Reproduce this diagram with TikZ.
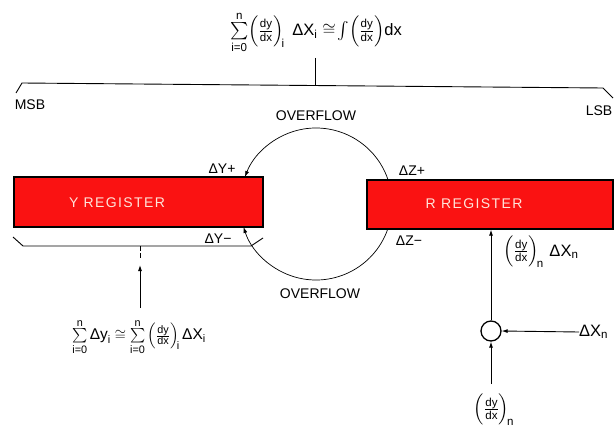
\documentclass[tikz,border=0pt]{standalone}
\usepackage{amsmath}
\usepackage{fontspec}
\setmainfont{Liberation Sans}
\usetikzlibrary{arrows.meta}
\definecolor{regred}{RGB}{250,18,18}
\definecolor{regtext}{RGB}{255,228,218}
\newcommand\sv[1]{\text{#1}}
\begin{document}
\begin{tikzpicture}[x=1pt,y=1pt,
  lbl/.style={font=\fontsize{14}{16}\selectfont, inner sep=0pt},
  form/.style={font=\fontsize{16.5}{18}\selectfont, inner sep=0pt},
  reg/.style={draw=black, line width=1.3pt, fill=regred, inner sep=0pt},
  regtxt/.style={text=regtext, font=\fontsize{14}{16}\selectfont\addfontfeature{LetterSpace=10}, inner sep=0pt},
  arr/.style={-{Latex[length=6pt,width=4pt]}, line width=0.9pt},
  ln/.style={line width=0.9pt}]
\useasboundingbox (0,0) rectangle (615,429);
% overflow circle
\coordinate (cc) at (316,225);
\coordinate (a1) at ([shift={(18.4:76)}]cc);
\coordinate (a2) at ([shift={(-19.2:76)}]cc);
\draw[arr, line width=0.7pt] (a1) arc[start angle=18.4, end angle=159.2, radius=76];
\draw[arr, line width=0.7pt] (a2) arc[start angle=-19.2, end angle=-162.4, radius=76];
% registers
\node[reg, minimum width=249pt, minimum height=50pt] (Y) at (138.5,227) {};
\node[regtxt] (Yt) at (117,226) {Y REGISTER};
\node[reg, minimum width=246pt, minimum height=49pt] (R) at (490,224.5) {};
\node[regtxt] (Rt) at (474,225) {R REGISTER};
% labels
\node[lbl] (yp) at (222,260) {ΔY+};
\node[lbl] (ym) at (218,190) {ΔY−};
\node[lbl] (zp) at (412,258) {ΔZ+};
\node[lbl] (zm) at (409,188) {ΔZ−};
\node[lbl] (ov1) at (316,313) {OVERFLOW};
\node[lbl] (ov2) at (320,135) {OVERFLOW};
\node[lbl] (msb) at (30,324) {MSB};
\node[lbl] (lsb) at (599,318) {LSB};
% top formula and bracket
\node[form] (tf) at (316,397) {$\sum\limits_{\sv{i=0}}^{\sv{n}}\!\left(\frac{\sv{dy}}{\sv{dx}}\right)_{\!\sv{i}}\;\sv{ΔX}_{\sv{i}}\cong\!\int\!\left(\frac{\sv{dy}}{\sv{dx}}\right)\!\sv{dx}$};
\coordinate (bl0) at (16,336);
\coordinate (bl1) at (22,346);
\coordinate (br1) at (603,341);
\coordinate (br0) at (613,331);
\coordinate (bm) at (315,343.5);
\coordinate (tv) at (315,371);
\draw[ln] (bl0) -- (bl1) -- (br1) -- (br0);
\draw[ln] (tv) -- (bm);
% bracket under Y register
\coordinate (yb0) at (13,192);
\coordinate (yb1) at (23,183);
\coordinate (yb2) at (251,183);
\coordinate (yb3) at (263,191);
\coordinate (ybm) at (140,183);
\coordinate (ybt) at (140,171);
\draw[ln] (yb0) -- (yb1) -- (yb2) -- (yb3);
\draw[ln, dash pattern=on 5pt off 2pt] (ybm) -- (ybt);
\node[form, font=\fontsize{15.5}{17}\selectfont] (lf) at (139,92) {$\sum\limits_{\sv{i=0}}^{\sv{n}}\sv{Δy}_{\sv{i}}\cong\sum\limits_{\sv{i=0}}^{\sv{n}}\left(\frac{\sv{dy}}{\sv{dx}}\right)_{\!\sv{i}}\sv{ΔX}_{\sv{i}}$};
\coordinate (la0) at (140,121);
\coordinate (la1) at (140,164);
\draw[arr] (la0) -- (la1);
% R register input
\node[draw, circle, minimum size=20pt, inner sep=0pt, line width=1.3pt] (sc) at (491,98) {};
\draw[arr] (sc.north) -- (sc.north |- R.south);
\node[form] (rl) at (541,177) {$\left(\frac{\sv{dy}}{\sv{dx}}\right)_{\!\sv{n}}\,\sv{ΔX}_{\sv{n}}$};
\node[form, anchor=west] (dxn) at (579,97) {$\sv{ΔX}_{\sv{n}}$};
\draw[arr] (dxn.west) -- (sc.east);
\node[form] (dyn) at (494,19) {$\left(\frac{\sv{dy}}{\sv{dx}}\right)_{\!\sv{n}}$};
\coordinate (dyt) at (491,45);
\draw[arr] (dyt) -- (sc.south);
\end{tikzpicture}
\end{document}
